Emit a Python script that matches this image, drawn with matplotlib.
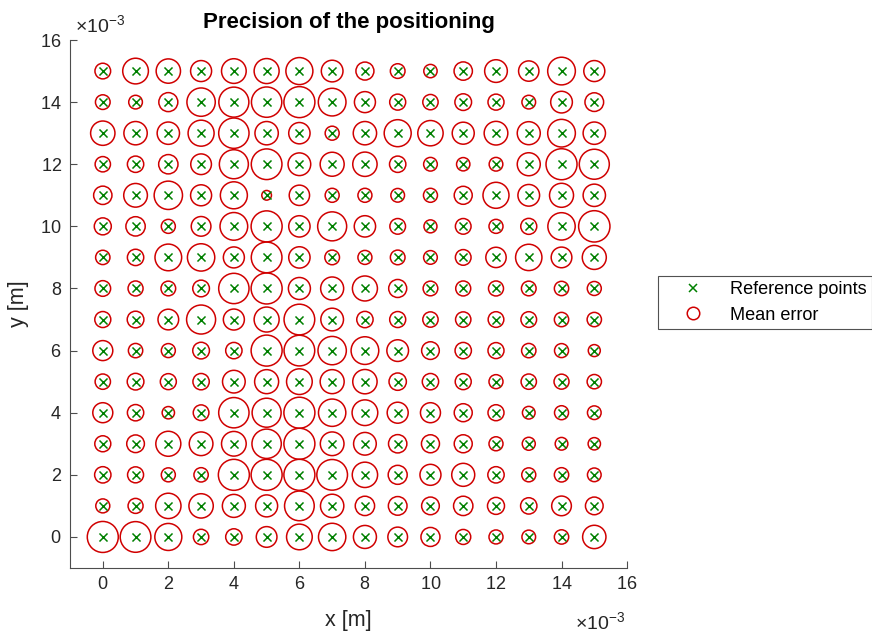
import numpy as np
import matplotlib.pyplot as plt
from matplotlib.lines import Line2D

plt.rcParams['font.family'] = ['Liberation Sans', 'DejaVu Sans']
plt.rcParams['mathtext.fontset'] = 'custom'
plt.rcParams['mathtext.rm'] = 'Liberation Sans'
plt.rcParams['mathtext.it'] = 'Liberation Sans:italic'

# grid of reference points (metres)
xs = np.arange(16) * 1e-3
ys = np.arange(16) * 1e-3

# mean error (rows from y=15 down to y=0, scaled units)
mean_err = [
    [50, 80, 76, 66, 77, 78, 84, 68, 57, 47, 43, 58, 71, 64, 86, 66],
    [47, 44, 60, 88, 93, 94, 96, 86, 66, 51, 49, 53, 51, 44, 68, 59],
    [76, 73, 70, 81, 94, 73, 67, 45, 73, 84, 79, 69, 74, 72, 86, 70],
    [49, 52, 61, 65, 90, 95, 71, 75, 76, 52, 44, 43, 44, 72, 96, 93],
    [58, 74, 88, 66, 84, 32, 64, 45, 45, 44, 45, 57, 81, 68, 75, 70],
    [54, 61, 45, 62, 86, 96, 67, 90, 67, 50, 42, 50, 45, 51, 85, 97],
    [46, 52, 83, 85, 66, 95, 67, 47, 45, 47, 44, 50, 64, 82, 65, 75],
    [50, 48, 47, 53, 94, 96, 69, 72, 78, 57, 47, 48, 48, 47, 46, 45],
    [51, 53, 65, 90, 66, 78, 95, 71, 52, 51, 49, 49, 50, 50, 46, 46],
    [63, 46, 45, 53, 52, 96, 95, 88, 86, 68, 56, 52, 51, 46, 45, 39],
    [49, 53, 51, 52, 71, 75, 80, 75, 76, 55, 52, 51, 45, 49, 48, 46],
    [63, 52, 40, 50, 94, 90, 96, 85, 80, 66, 63, 57, 51, 41, 45, 44],
    [51, 56, 78, 74, 77, 91, 96, 74, 71, 58, 57, 57, 45, 42, 41, 40],
    [52, 51, 45, 46, 96, 96, 96, 95, 79, 60, 66, 72, 52, 45, 46, 44],
    [45, 48, 79, 76, 72, 69, 92, 73, 61, 59, 56, 61, 54, 52, 62, 56],
    [96, 95, 84, 49, 52, 65, 80, 85, 72, 62, 60, 48, 45, 44, 46, 73],
]

err = np.array(mean_err)[::-1]  # row index -> y
X, Y = np.meshgrid(xs, ys)

fig = plt.figure(figsize=(8.72, 6.35), dpi=100)
ax = fig.add_axes([0.0803, 0.1055, 0.6388, 0.8315])

# circle size in points (px -> pt)
diam_pt = (err / 3.0 - 1.0) * 0.72
red = '#d00000'
green = '#008000'
ax.scatter(X.ravel(), Y.ravel(), s=(diam_pt.ravel()) ** 2, marker='o',
           facecolors='none', edgecolors=red, linewidths=1.1, zorder=2)
ax.scatter(X.ravel(), Y.ravel(), s=5.8 ** 2, marker='x', color=green,
           linewidths=1.1, zorder=3)

ax.set_xlim(-1e-3, 16e-3)
ax.set_ylim(-1e-3, 16e-3)
ax.set_xticks(np.arange(0, 17, 2) * 1e-3)
ax.set_yticks(np.arange(0, 17, 2) * 1e-3)
ax.ticklabel_format(style='sci', scilimits=(-3, -3), useMathText=True)
# exponent labels placed by hand, MATLAB style
ax.xaxis.get_offset_text().set_visible(False)
ax.yaxis.get_offset_text().set_visible(False)
fig.text(575 / 872, 1 - 622 / 635, r'$\times10^{-3}$', fontsize=14,
         color='#262626', ha='left', va='center')
fig.text(75 / 872, 1 - 25 / 635, r'$\times10^{-3}$', fontsize=14,
         color='#262626', ha='left', va='center')

axcol = '#4d4d4d'
for side in ['top', 'right']:
    ax.spines[side].set_visible(False)
for side in ['left', 'bottom']:
    ax.spines[side].set_color(axcol)
    ax.spines[side].set_linewidth(0.8)
ax.tick_params(direction='in', length=5, width=0.8, color=axcol,
               labelsize=13, labelcolor='#262626', pad=6)

ax.set_xlabel('x [m]', fontsize=15.5, color='#262626', labelpad=12)
ax.set_ylabel('y [m]', fontsize=15.5, color='#262626', labelpad=8)
ax.set_title('Precision of the positioning', fontsize=16, fontweight='bold', pad=9)

handles = [
    Line2D([], [], linestyle='none', marker='x', color=green, markersize=6, markeredgewidth=1.1),
    Line2D([], [], linestyle='none', marker='o', markerfacecolor='none',
           markeredgecolor=red, markersize=9, markeredgewidth=1.1),
]
leg = fig.legend(handles, ['Reference points', 'Mean error'],
                 loc='upper left', bbox_to_anchor=(658 / 872, 1 - 276 / 635),
                 fontsize=13.1, frameon=True, fancybox=False, edgecolor='#262626',
                 borderaxespad=0, borderpad=0.3, handlelength=3.3,
                 handletextpad=0.35, labelspacing=0.45)
leg.get_frame().set_linewidth(0.8)

fig.savefig('out.png', dpi=100)
